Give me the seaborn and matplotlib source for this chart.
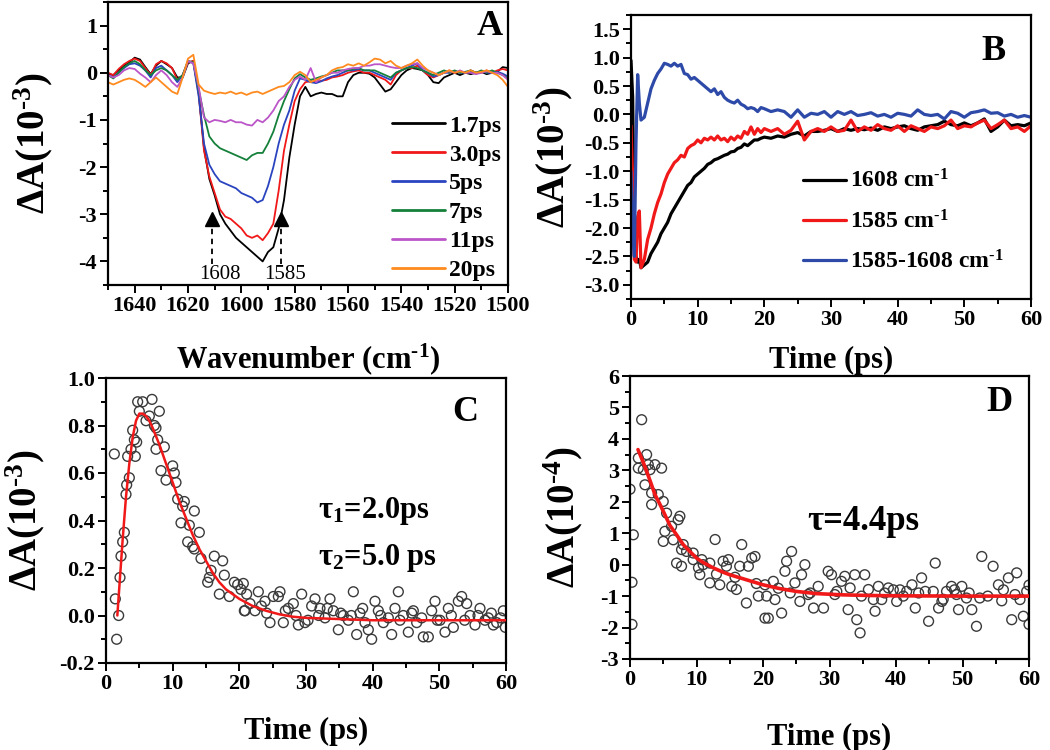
import numpy as np
import pandas as pd
import matplotlib
matplotlib.use("Agg")
import matplotlib.pyplot as plt
import seaborn as sns
from matplotlib.ticker import MultipleLocator, FormatStrFormatter

# ---------------- Panel A: transient spectra ----------------
wavenumber = [1650, 1648, 1646, 1644, 1642, 1640, 1638, 1636, 1634, 1632,
              1630, 1628, 1626, 1624, 1622, 1620, 1618, 1616, 1614, 1612,
              1610, 1608, 1606, 1604, 1602, 1600, 1598, 1596, 1594, 1592,
              1590, 1588, 1586, 1584, 1582, 1580, 1578, 1576, 1574, 1572,
              1570, 1568, 1566, 1564, 1562, 1560, 1558, 1556, 1554, 1552,
              1550, 1548, 1546, 1544, 1542, 1540, 1538, 1536, 1534, 1532,
              1530, 1528, 1526, 1524, 1522, 1520, 1518, 1516, 1514, 1512,
              1510, 1508, 1506, 1504, 1502, 1500]

spec_1p7ps = [-0.03, -0.05, 0.05, 0.15, 0.22, 0.32, 0.28, 0.12, -0.03, 0.15,
              0.25, 0.18, 0.1, -0.1, -0.1, 0.2, 0.25, -0.4, -1.6, -2.25,
              -2.6, -3.0, -3.2, -3.35, -3.5, -3.6, -3.7, -3.8, -3.9, -4.0,
              -3.8, -3.7, -3.3, -2.7, -1.8, -1.1, -0.5, -0.3, -0.5, -0.45,
              -0.42, -0.45, -0.45, -0.5, -0.5, -0.2, -0.05, 0.0, 0.0, -0.02,
              -0.1, -0.25, -0.4, -0.35, -0.2, -0.05, 0.05, 0.1, 0.08, 0.05,
              -0.05, -0.2, -0.22, -0.1, -0.05, 0.0, -0.05, 0.0, -0.03, 0.0,
              0.02, -0.03, 0.0, 0.02, 0.12, 0.1]
spec_3p0ps = [0.0, -0.05, 0.08, 0.18, 0.25, 0.3, 0.25, 0.1, -0.05, 0.18,
              0.25, 0.2, 0.1, -0.15, -0.05, 0.22, 0.25, -0.45, -1.65, -2.2,
              -2.55, -2.9, -3.05, -3.1, -3.2, -3.3, -3.45, -3.5, -3.45, -3.55,
              -3.4, -3.2, -2.5, -1.65, -1.1, -0.6, -0.35, -0.2, -0.18, -0.2,
              -0.17, -0.15, -0.1, -0.08, -0.05, 0.0, 0.03, 0.05, 0.0, 0.0,
              -0.05, -0.1, -0.15, -0.25, -0.05, 0.05, 0.1, 0.1, 0.15, 0.05,
              -0.05, -0.1, -0.05, 0.0, 0.05, 0.0, 0.03, 0.0, 0.05, 0.0,
              0.0, 0.05, 0.0, 0.05, 0.08, 0.05]
spec_5ps = [-0.05, -0.1, 0.0, 0.1, 0.18, 0.2, 0.15, 0.05, -0.1, 0.1,
            0.15, 0.05, -0.05, -0.2, -0.05, 0.25, 0.2, -0.5, -1.5, -1.95,
            -2.15, -2.3, -2.35, -2.4, -2.45, -2.55, -2.6, -2.65, -2.75, -2.7,
            -2.4, -2.0, -1.5, -1.1, -0.8, -0.38, -0.12, -0.15, -0.2, -0.22,
            -0.18, -0.12, -0.08, -0.05, 0.0, 0.05, 0.05, 0.08, 0.05, 0.05,
            0.0, -0.05, -0.1, -0.15, 0.0, 0.05, 0.1, 0.15, 0.2, 0.05,
            0.0, -0.08, -0.05, 0.0, 0.0, 0.03, 0.0, 0.0, 0.02, 0.0,
            0.03, 0.0, 0.0, 0.02, -0.02, -0.08]
spec_7ps = [-0.05, -0.12, 0.0, 0.12, 0.2, 0.25, 0.18, 0.05, -0.05, 0.05,
            0.1, 0.05, -0.05, -0.15, -0.05, 0.25, 0.22, -0.35, -0.9, -1.35,
            -1.5, -1.6, -1.65, -1.7, -1.75, -1.8, -1.85, -1.75, -1.7, -1.7,
            -1.5, -1.25, -0.9, -0.6, -0.35, -0.12, -0.03, -0.1, -0.15, -0.12,
            -0.08, -0.05, 0.0, 0.05, 0.05, 0.05, 0.08, 0.1, 0.05, 0.05,
            0.05, 0.0, -0.05, -0.1, 0.0, 0.05, 0.1, 0.12, 0.1, 0.05,
            0.0, -0.05, 0.0, 0.05, 0.0, 0.05, 0.0, 0.02, 0.05, 0.0,
            0.05, 0.0, 0.05, 0.0, -0.05, -0.12]
spec_11ps = [-0.05, -0.1, -0.05, 0.05, 0.1, 0.08, -0.02, -0.1, -0.2, -0.05,
             0.05, -0.05, -0.2, -0.3, -0.1, 0.25, 0.2, -0.3, -0.95, -1.05,
             -1.0, -1.02, -1.05, -1.0, -1.05, -1.05, -1.1, -1.12, -1.0, -1.05,
             -0.95, -0.8, -0.6, -0.5, -0.3, -0.15, -0.08, -0.15, 0.1, -0.2,
             -0.1, -0.05, 0.0, 0.0, 0.05, 0.08, 0.1, 0.1, 0.15, 0.15,
             0.18, 0.18, 0.15, 0.12, 0.1, 0.1, 0.15, 0.18, 0.2, 0.1,
             0.05, 0.0, -0.05, 0.0, 0.03, 0.0, 0.05, 0.0, 0.0, -0.03,
             0.0, 0.03, 0.0, 0.0, -0.05, -0.15]
spec_20ps = [-0.2, -0.25, -0.2, -0.15, -0.12, -0.15, -0.22, -0.3, -0.2, -0.1,
             -0.2, -0.3, -0.4, -0.45, -0.1, 0.3, 0.38, -0.25, -0.38, -0.42,
             -0.45, -0.42, -0.44, -0.4, -0.45, -0.42, -0.47, -0.42, -0.4, -0.45,
             -0.4, -0.35, -0.3, -0.28, -0.2, -0.05, 0.02, -0.05, -0.2, -0.15,
             -0.1, -0.05, 0.05, 0.1, 0.12, 0.18, 0.15, 0.2, 0.15, 0.22,
             0.3, 0.28, 0.2, 0.25, 0.15, 0.1, 0.15, 0.2, 0.28, 0.15,
             0.05, 0.0, -0.05, 0.0, 0.05, 0.0, 0.03, 0.0, 0.05, 0.0,
             0.02, 0.05, 0.0, -0.05, -0.15, -0.3]

delay_labels = ["1.7ps", "3.0ps", "5ps", "7ps", "11ps", "20ps"]
delay_colors = ["#000000", "#f01818", "#2a44c0", "#14803a", "#bb55c8", "#ff8a1e"]
marker_positions = [1611, 1585]
marker_labels = ["1608", "1585"]

# ---------------- Panel B: kinetics ----------------
time_b = [0, 0.25, 0.5, 0.75, 1.0, 1.25, 1.5,
          2.0, 2.5, 3.0, 3.5, 4.0, 4.5, 5.0, 5.5, 6.0, 6.5,
          7.0, 7.5, 8.0, 8.5, 9.0, 9.5, 10.0, 10.5, 11.0, 11.5,
          12.0, 12.5, 13.0, 13.5, 14.0, 14.5, 15.0, 15.5, 16.0, 16.5,
          17.0, 17.5, 18.0, 18.5, 19.0, 19.5, 20.0,
          21, 22, 23, 24, 25, 26, 27, 28, 29, 30,
          31, 32, 33, 34, 35, 36, 37, 38, 39, 40,
          41, 42, 43, 44, 45, 46, 47, 48, 49, 50,
          51, 52, 53, 54, 55, 56, 57, 58, 59, 60]
kin_1608 = [0.95, 0.3, -2.3, -2.5, -2.6, -2.55, -2.7,
            -2.65, -2.6, -2.45, -2.35, -2.25, -2.1, -2.0, -1.9, -1.75, -1.65,
            -1.55, -1.45, -1.35, -1.25, -1.2, -1.1, -1.05, -1.0, -0.95, -0.88,
            -0.85, -0.8, -0.78, -0.75, -0.72, -0.7, -0.66, -0.65, -0.6, -0.58,
            -0.52, -0.55, -0.5, -0.45, -0.45, -0.42, -0.4,
            -0.42, -0.38, -0.4, -0.35, -0.32, -0.38, -0.3, -0.3, -0.28, -0.25,
            -0.3, -0.25, -0.28, -0.25, -0.27, -0.24, -0.28, -0.22, -0.25, -0.22,
            -0.2, -0.25, -0.28, -0.22, -0.2, -0.18, -0.12, -0.18, -0.2, -0.15,
            -0.2, -0.15, -0.08, -0.3, -0.22, -0.1, -0.2, -0.18, -0.2, -0.15]
kin_1585 = [-0.2, -1.2, -2.55, -2.6, -1.8, -1.7, -2.7,
            -2.55, -2.2, -2.0, -1.75, -1.55, -1.4, -1.2, -1.05, -0.95, -0.85,
            -0.8, -0.72, -0.75, -0.6, -0.55, -0.52, -0.45, -0.5, -0.42, -0.45,
            -0.4, -0.45, -0.38, -0.45, -0.42, -0.48, -0.4, -0.45, -0.38, -0.42,
            -0.3, -0.35, -0.22, -0.35, -0.25, -0.32, -0.25,
            -0.3, -0.25, -0.35, -0.28, -0.12, -0.45, -0.3, -0.25, -0.3, -0.22,
            -0.3, -0.28, -0.1, -0.3, -0.22, -0.28, -0.18, -0.25, -0.28, -0.2,
            -0.3, -0.2, -0.25, -0.3, -0.22, -0.25, -0.2, -0.1, -0.25, -0.2,
            -0.22, -0.15, -0.1, -0.25, -0.18, -0.1, -0.25, -0.22, -0.3, -0.2]
kin_diff = [-1.0, -2.0, -2.5, -0.5, 0.7, 0.2, -0.1,
            -0.05, 0.2, 0.45, 0.6, 0.72, 0.8, 0.9, 0.88, 0.85, 0.9,
            0.85, 0.88, 0.72, 0.7, 0.62, 0.65, 0.6, 0.55, 0.5, 0.45,
            0.4, 0.45, 0.35, 0.4, 0.3, 0.25, 0.22, 0.2, 0.25, 0.18,
            0.15, 0.1, 0.12, 0.1, 0.05, 0.12, 0.1,
            0.05, 0.08, 0.05, -0.05, 0.08, -0.05, 0.02, 0.0, 0.05, -0.05,
            0.05, 0.0, 0.05, -0.02, 0.0, 0.03, -0.03, 0.0, -0.05, 0.02,
            0.0, -0.03, 0.08, 0.0, -0.02, 0.0, -0.08, 0.05, 0.02, -0.05,
            0.03, 0.05, 0.08, 0.02, 0.03, -0.03, 0.0, -0.05, -0.02, -0.05]
kin_labels = ["1608 cm$^{‐1}$", "1585 cm$^{‐1}$", "1585-1608 cm$^{‐1}$"]
kin_colors = ["#000000", "#f01818", "#2e4aa8"]

# ---------------- Panel C: difference kinetics + biexponential fit ----------------
c_time = [1.25, 1.4, 1.6, 1.9, 2.1, 2.25, 2.5, 2.75, 3.0, 3.1,
          3.25, 3.5, 3.75, 4.0, 4.25, 4.4, 4.6, 4.75, 5.0, 5.5,
          6.0, 6.5, 6.9, 7.25, 7.5, 7.5, 7.75, 8.0, 8.25, 8.75,
          9.0, 10.0, 10.25, 10.5, 10.75, 11.25, 11.5, 11.75, 12.25, 12.5,
          13.0, 13.25, 13.25, 14.0, 14.25, 15.25, 15.5, 15.75, 16.25, 17.0,
          17.5, 17.75, 18.5, 19.25, 19.75, 20.25, 20.6, 20.75, 20.85, 21.1,
          21.6, 22.35, 22.85, 23.3, 23.85, 24.1, 24.6, 25.1, 25.85, 26.1,
          26.6, 26.9, 27.35, 28.1, 28.5, 28.85, 29.35, 29.85, 30.3, 30.85,
          31.35, 31.9, 32.1, 32.85, 33.2, 33.6, 34.1, 34.85, 35.2, 35.6,
          36.35, 36.8, 37.1, 37.6, 38.1, 38.5, 38.85, 39.35, 39.85, 40.35,
          40.85, 41.2, 41.6, 42.35, 42.85, 43.35, 43.85, 44.1, 44.6, 45.35,
          45.85, 46.1, 46.6, 47.35, 47.6, 48.35, 48.85, 49.35, 49.7, 50.1,
          50.85, 51.35, 51.8, 52.1, 52.85, 53.35, 53.8, 54.1, 54.6, 55.35,
          55.8, 56.1, 56.85, 57.35, 57.8, 58.1, 58.6, 59.2, 59.6, 59.9]
c_signal = [0.68, 0.07, -0.10, 0.0, 0.16, 0.25, 0.31, 0.35, 0.51, 0.55,
            0.67, 0.58, 0.70, 0.78, 0.74, 0.67, 0.73, 0.90, 0.86, 0.90,
            0.82, 0.84, 0.91, 0.80, 0.79, 0.70, 0.74, 0.86, 0.61, 0.71,
            0.57, 0.63, 0.60, 0.56, 0.49, 0.39, 0.46, 0.48, 0.31, 0.38,
            0.29, 0.44, 0.28, 0.35, 0.24, 0.14, 0.16, 0.19, 0.25, 0.09,
            0.23, 0.17, 0.08, 0.14, 0.13, 0.11, 0.135, 0.02, 0.02, 0.09,
            0.05, 0.02, 0.10, 0.04, 0.06, 0.01, -0.03, 0.08, 0.08, 0.10,
            -0.03, 0.02, 0.03, 0.05, 0.0, -0.04, 0.09, -0.03, -0.02, 0.04,
            0.07, 0.0, 0.03, -0.01, 0.03, 0.07, 0.02, -0.06, 0.01, 0.0,
            -0.02, 0.0, 0.10, -0.08, 0.01, 0.03, -0.03, -0.06, -0.10, 0.06,
            0.02, 0.0, -0.03, -0.01, -0.08, 0.03, 0.10, -0.02, 0.0, -0.07,
            0.01, 0.02, -0.03, -0.01, -0.09, -0.09, 0.02, 0.06, -0.02, -0.02,
            -0.07, 0.03, 0.0, -0.05, 0.06, 0.08, -0.02, 0.05, 0.0, -0.04,
            0.0, 0.03, -0.02, -0.01, 0.01, -0.04, -0.03, -0.01, 0.02, -0.05]
c_fit_time = [1.7, 2.0, 2.25, 2.5, 2.75, 3.0, 3.5, 4.0, 4.5, 5.0,
              5.5, 6.0, 6.5, 7.0, 8.0, 9.0, 10.0, 11.0, 12.0, 13.0,
              14.0, 15.0, 16.0, 17.0, 18.0, 19.0, 20.0, 22.0, 24.0, 26.0,
              28.0, 30.0, 35.0, 40.0, 50.0, 60.0]
c_fit_signal = [0.0, 0.12, 0.22, 0.32, 0.41, 0.5, 0.64, 0.75, 0.82, 0.85,
                0.85, 0.84, 0.82, 0.79, 0.72, 0.64, 0.56, 0.48, 0.41, 0.34,
                0.28, 0.23, 0.18, 0.14, 0.11, 0.09, 0.07, 0.04, 0.02, 0.005,
                -0.005, -0.01, -0.015, -0.02, -0.02, -0.02]

# ---------------- Panel D: single exponential ----------------
d_time = [0.0, 0.3, 0.3, 0.5, 1.25, 1.25, 1.75, 2.0, 2.25, 2.5,
          2.75, 3.0, 3.25, 3.25, 3.75, 4.25, 4.75, 5.0, 5.0, 5.25,
          5.5, 6.25, 6.5, 7.0, 7.25, 7.5, 7.75, 7.75, 8.0, 8.5,
          9.5, 9.5, 10.3, 10.5, 10.8, 11.0, 12.0, 12.0, 12.8, 13.0,
          13.5, 14.0, 14.5, 14.8, 15.3, 15.8, 16.0, 16.5, 16.8, 17.5,
          17.8, 18.3, 18.8, 19.0, 19.3, 20.3, 20.3, 20.55, 20.8, 21.55,
          21.8, 22.3, 22.8, 23.3, 23.55, 24.1, 24.3, 24.8, 25.55, 25.8,
          26.3, 26.8, 27.1, 27.6, 28.3, 29.1, 29.8, 30.3, 30.8, 31.1,
          31.8, 32.3, 32.8, 33.1, 33.8, 34.1, 34.6, 34.8, 35.3, 35.85,
          36.6, 36.85, 37.35, 37.85, 38.3, 38.85, 39.6, 40.1, 40.6, 41.1,
          41.6, 42.4, 42.9, 43.4, 43.85, 44.4, 44.9, 45.6, 45.9, 46.4,
          46.9, 47.1, 47.6, 48.35, 48.8, 49.1, 49.4, 49.9, 50.6, 51.0,
          51.4, 52.1, 52.6, 52.9, 53.8, 54.6, 55.4, 55.9, 56.15, 56.9,
          57.4, 57.9, 58.15, 58.65, 59.15, 59.65, 60.0, 60.0]
d_signal = [2.4, -0.56, -1.9, 0.95, 3.39, 3.07, 4.61, 3.02, 2.54, 3.5,
            3.18, 3.02, 2.28, 1.91, 3.18, 2.23, 3.07, 2.01, 0.74, 1.06,
            1.64, 1.22, 0.79, 0.05, 1.43, 1.54, 0.48, -0.05, 0.64, 0.42,
            0.37, 0.16, -0.1, -0.32, 0.16, 0.0, 0.05, -0.58, 0.8, -0.3,
            -0.64, 0.11, -0.05, 0.16, -0.69, -0.4, -0.79, -0.05, 0.64, -1.22,
            -0.05, 0.21, 0.26, -0.6, -1.0, -0.64, -1.7, -1.0, -1.7, -0.53,
            -1.11, -0.75, -1.54, -0.21, 0.11, -0.9, 0.42, -0.58, -1.17, -0.32,
            0.0, -0.95, -0.9, -1.38, -0.69, -1.38, -0.21, -0.32, -0.95, -0.85,
            -0.53, -0.37, -1.43, -0.74, -0.32, -1.75, -2.17, -1.0, -0.32, -0.79,
            -1.11, -1.48, -0.69, -1.11, -0.9, -0.74, -0.8, -1.17, -0.8, -1.0,
            -0.85, -0.64, -1.38, -0.9, -0.42, -0.85, -1.8, -0.85, 0.05, -1.38,
            -1.17, -1.1, -0.85, -0.69, -0.8, -0.95, -1.43, -0.69, -1.06, -0.9,
            -1.43, -1.96, -1.06, 0.26, -1.0, -0.05, -0.64, -1.15, -0.8, -0.42,
            -1.75, -0.95, -0.26, -1.11, -1.64, -0.85, -1.9, -0.65]
d_fit_time = [1.2, 2.0, 2.5, 3.0, 3.75, 4.5, 5.0, 6.0, 7.0, 8.0,
              9.0, 10.0, 11.0, 12.5, 14.0, 15.0, 17.5, 20.0, 22.5, 25.0,
              28.0, 32.0, 36.0, 40.0, 50.0, 60.0]
d_fit_signal = [3.66, 3.25, 2.97, 2.68, 2.23, 1.92, 1.70, 1.25, 0.95, 0.64,
                0.42, 0.21, 0.07, -0.1, -0.24, -0.32, -0.48, -0.64, -0.76, -0.85,
                -0.92, -0.96, -0.98, -0.99, -1.0, -1.0]


def add_axes_px(fig, left, top, right, bottom, W=1050, H=750):
    """Place an axes using pixel edges of the 1050x750 canvas."""
    return fig.add_axes([left / W, 1 - bottom / H, (right - left) / W, (bottom - top) / H])


def style_axes(ax, xmaj, xmin, ymaj, ymin, yfmt):
    ax.xaxis.set_major_locator(MultipleLocator(xmaj))
    ax.xaxis.set_minor_locator(MultipleLocator(xmin))
    ax.yaxis.set_major_locator(MultipleLocator(ymaj))
    ax.yaxis.set_minor_locator(MultipleLocator(ymin))
    ax.yaxis.set_major_formatter(FormatStrFormatter(yfmt))
    for sp in ax.spines.values():
        sp.set_visible(True)
        sp.set_linewidth(1.6)
        sp.set_color("black")
    ax.tick_params(which="both", direction="out", top=False, right=False,
                   width=1.4, colors="black", labelsize=16, pad=2)
    ax.tick_params(which="major", length=6)
    ax.tick_params(which="minor", length=3.5)


sns.set_theme(style="ticks")
plt.rcParams.update({
    "font.family": ["Liberation Serif", "DejaVu Serif"],
    "font.weight": "bold",
    "axes.labelweight": "bold",
    "axes.unicode_minus": False,
    "mathtext.default": "regular",
    "axes.edgecolor": "black",
    "axes.labelcolor": "black",
    "text.color": "black",
})

fig = plt.figure(figsize=(10.5, 7.5), dpi=100)
axA = add_axes_px(fig, 108, 2, 508, 285)
axB = add_axes_px(fig, 631, 15, 1031, 299)
axC = add_axes_px(fig, 106, 378, 506, 663)
axD = add_axes_px(fig, 630, 376, 1029, 659)

# ---- A ----
spectra = [spec_1p7ps, spec_3p0ps, spec_5ps, spec_7ps, spec_11ps, spec_20ps]
handles = []
for spec, lab, col in zip(spectra, delay_labels, delay_colors):
    sns.lineplot(x=wavenumber, y=spec, ax=axA, color=col, linewidth=1.3,
                 estimator=None, label=lab, legend=False)
    handles.append(axA.lines[-1])
axA.set_xlim(1650, 1500)
axA.set_ylim(-4.5, 1.5)
style_axes(axA, 20, 10, 1, 0.5, "%.0f")
for xpos in marker_positions:
    axA.vlines(xpos, -4.05, -3.25, colors="black", linestyles=(0, (3, 2.5)), linewidth=1.3)
    axA.plot([xpos], [-3.1], marker="^", markersize=10, color="black", linestyle="none")
axA.text(1608, -4.28, marker_labels[0], ha="center", va="center", fontsize=15, fontweight="normal")
axA.text(1583.5, -4.28, marker_labels[1], ha="center", va="center", fontsize=15, fontweight="normal")
legA = axA.legend(handles, delay_labels, loc="upper left", bbox_to_anchor=(0.71, 0.60),
                  frameon=False, fontsize=17, handlelength=2.25, handletextpad=0.15,
                  labelspacing=0.31, borderpad=0, borderaxespad=0)
for ln in legA.get_lines():
    ln.set_linewidth(2.0)
axA.set_xlabel("Wavenumber (cm$^{‐1}$)", fontsize=22)
axA.xaxis.set_label_coords(0.5, -0.2)
axA.set_ylabel("ΔA(10$^{‐3}$)", fontsize=28)
axA.yaxis.set_label_coords(-0.1325, 0.5)
axA.text(0.955, 0.915, "A", transform=axA.transAxes, ha="center", va="center", fontsize=26)

# ---- B ----
kin_df = pd.DataFrame({"time": time_b, kin_labels[0]: kin_1608,
                       kin_labels[1]: kin_1585, kin_labels[2]: kin_diff})
handles = []
for lab, col in zip(kin_labels, kin_colors):
    sns.lineplot(data=kin_df, x="time", y=lab, ax=axB, color=col, linewidth=2.3,
                 estimator=None, legend=False)
    handles.append(axB.lines[-1])
axB.set_xlim(0, 60)
axB.set_ylim(-3.25, 1.75)
style_axes(axB, 10, 5, 0.5, 0.25, "%.1f")
axB.legend(handles, kin_labels, loc="upper left", bbox_to_anchor=(0.43, 0.455),
           frameon=False, fontsize=17, handlelength=1.8, handletextpad=0.2,
           labelspacing=0.72, borderpad=0, borderaxespad=0)
axB.set_xlabel("Time (ps)", fontsize=22)
axB.xaxis.set_label_coords(0.5, -0.165)
axB.set_ylabel("ΔA(10$^{‐3}$)", fontsize=28)
axB.yaxis.set_label_coords(-0.14, 0.5)
axB.text(0.905, 0.87, "B", transform=axB.transAxes, ha="center", va="center", fontsize=26)

# ---- C ----
sns.scatterplot(x=c_time, y=c_signal, ax=axC, marker="o", s=50, linewidth=1.0,
                edgecolor="#3a3a3a", legend=False, zorder=2)
axC.collections[-1].set_facecolor("none")
sns.lineplot(x=c_fit_time, y=c_fit_signal, ax=axC, color="#f01818", linewidth=1.8,
             estimator=None, legend=False, zorder=3)
axC.set_xlim(0, 60)
axC.set_ylim(-0.2, 1.0)
style_axes(axC, 10, 5, 0.2, 0.1, "%.1f")
axC.text(31.8, 0.44, "τ$_1$=2.0ps", ha="left", va="center", fontsize=22)
axC.text(31.8, 0.24, "τ$_2$=5.0 ps", ha="left", va="center", fontsize=22)
axC.set_xlabel("Time (ps)", fontsize=22)
axC.xaxis.set_label_coords(0.5, -0.19)
axC.set_ylabel("ΔA(10$^{‐3}$)", fontsize=28)
axC.yaxis.set_label_coords(-0.1475, 0.5)
axC.text(0.8975, 0.88, "C", transform=axC.transAxes, ha="center", va="center", fontsize=26)

# ---- D ----
sns.scatterplot(x=d_time, y=d_signal, ax=axD, marker="o", s=50, linewidth=1.0,
                edgecolor="#3a3a3a", legend=False, zorder=2)
axD.collections[-1].set_facecolor("none")
sns.lineplot(x=d_fit_time, y=d_fit_signal, ax=axD, color="#f01818", linewidth=2.6,
             estimator=None, legend=False, zorder=3)
axD.set_xlim(0, 60)
axD.set_ylim(-3, 6)
style_axes(axD, 10, 5, 1, 0.5, "%.0f")
axD.text(26.6, 1.37, "τ=4.4ps", ha="left", va="center", fontsize=25)
axD.set_xlabel("Time (ps)", fontsize=22)
axD.xaxis.set_label_coords(0.5, -0.226)
axD.set_ylabel("ΔA(10$^{‐4}$)", fontsize=28)
axD.yaxis.set_label_coords(-0.113, 0.5)
axD.text(0.927, 0.908, "D", transform=axD.transAxes, ha="center", va="center", fontsize=26)

fig.savefig("out.png", dpi=100)
